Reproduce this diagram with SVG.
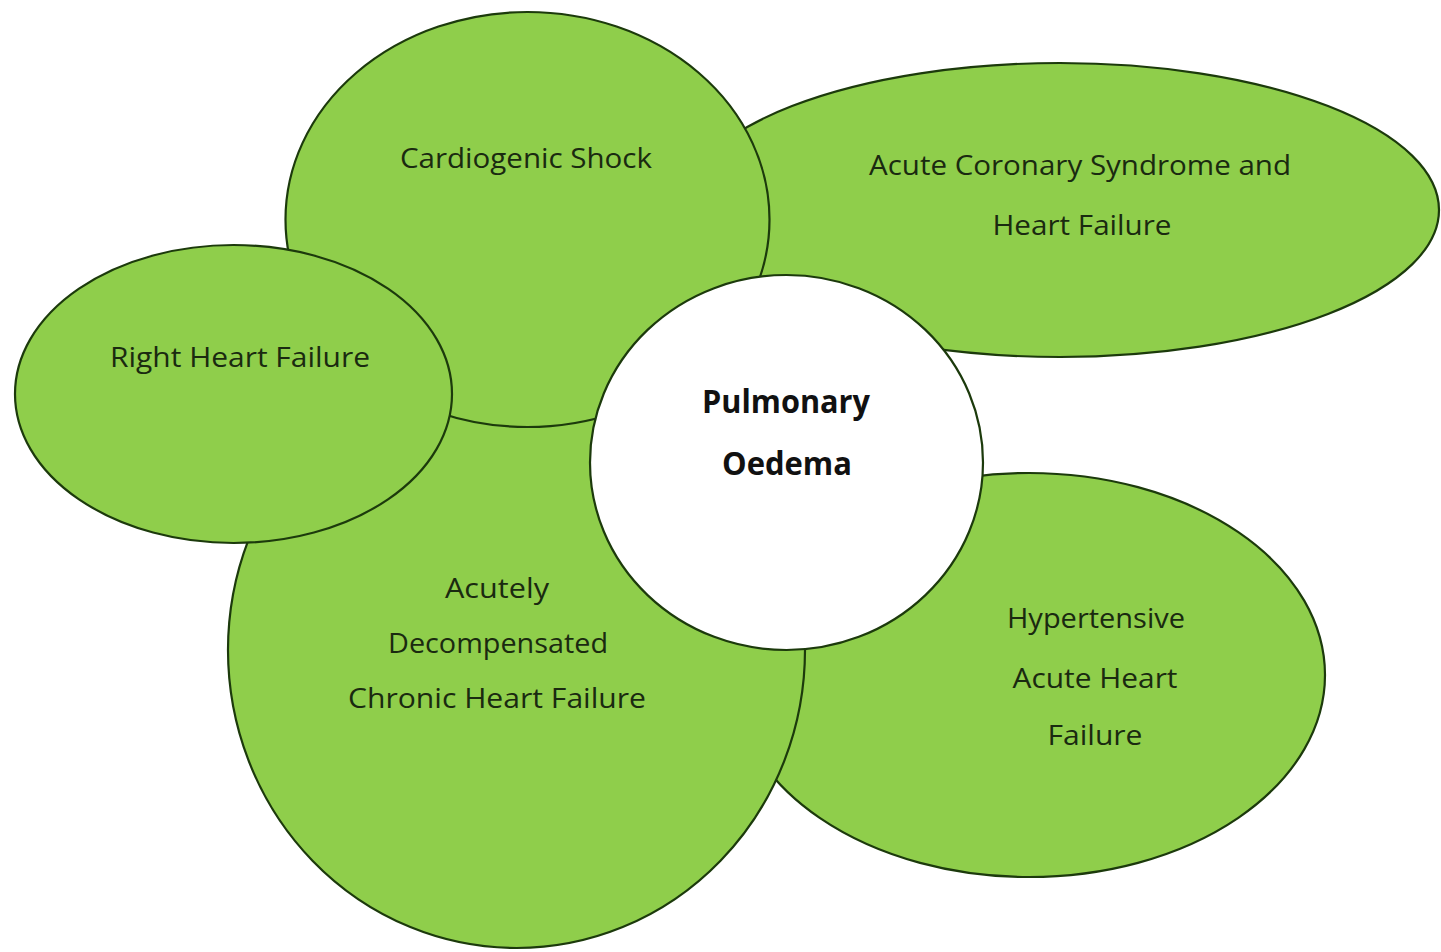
<svg xmlns="http://www.w3.org/2000/svg" width="1441" height="952" viewBox="0 0 1441 952">
<style>
.bg{fill:#ffffff}
.node{fill:#8fce4b;stroke:#1c3a0c;stroke-width:2.2}
.center{fill:#ffffff;stroke:#1c3a0c;stroke-width:2.2}
.lbl{font-family:"Open Sans","Liberation Sans",sans-serif;font-size:27px;fill:#1a2a10;text-anchor:middle}
.title{font-family:"Open Sans","Liberation Sans",sans-serif;font-size:33px;font-weight:bold;fill:#111111;text-anchor:middle}
</style>
<rect class="bg" x="0" y="0" width="1441" height="952"/>
<g id="acs">
<ellipse class="node" cx="1060" cy="210" rx="379" ry="147"/>
<text class="lbl" x="1080" y="175" textLength="422" lengthAdjust="spacingAndGlyphs">Acute Coronary Syndrome and</text>
<text class="lbl" x="1082" y="235" textLength="179" lengthAdjust="spacingAndGlyphs">Heart Failure</text>
</g>
<g id="hypertensive">
<ellipse class="node" cx="1029" cy="675" rx="296" ry="202"/>
<text class="lbl" x="1096" y="628" textLength="178" lengthAdjust="spacingAndGlyphs">Hypertensive</text>
<text class="lbl" x="1095" y="688" textLength="165" lengthAdjust="spacingAndGlyphs">Acute Heart</text>
<text class="lbl" x="1095" y="745" textLength="95" lengthAdjust="spacingAndGlyphs">Failure</text>
</g>
<g id="acutely">
<ellipse class="node" cx="516.5" cy="650" rx="288.5" ry="298"/>
<text class="lbl" x="497" y="598" textLength="104" lengthAdjust="spacingAndGlyphs">Acutely</text>
<text class="lbl" x="498" y="653" textLength="220" lengthAdjust="spacingAndGlyphs">Decompensated</text>
<text class="lbl" x="497" y="708" textLength="298" lengthAdjust="spacingAndGlyphs">Chronic Heart Failure</text>
</g>
<g id="cardiogenic">
<ellipse class="node" cx="527.5" cy="219.5" rx="242" ry="207.5"/>
<text class="lbl" x="526" y="168" textLength="252" lengthAdjust="spacingAndGlyphs">Cardiogenic Shock</text>
</g>
<g id="right-heart">
<ellipse class="node" cx="233.5" cy="394" rx="218.5" ry="149"/>
<text class="lbl" x="240" y="367" textLength="260" lengthAdjust="spacingAndGlyphs">Right Heart Failure</text>
</g>
<g id="pulmonary">
<ellipse class="center" cx="786.5" cy="462.5" rx="196.5" ry="187.5"/>
<text class="title" x="786" y="413" textLength="168" lengthAdjust="spacingAndGlyphs">Pulmonary</text>
<text class="title" x="787" y="475" textLength="130" lengthAdjust="spacingAndGlyphs">Oedema</text>
</g>
<g id="connectors"></g>
</svg>
